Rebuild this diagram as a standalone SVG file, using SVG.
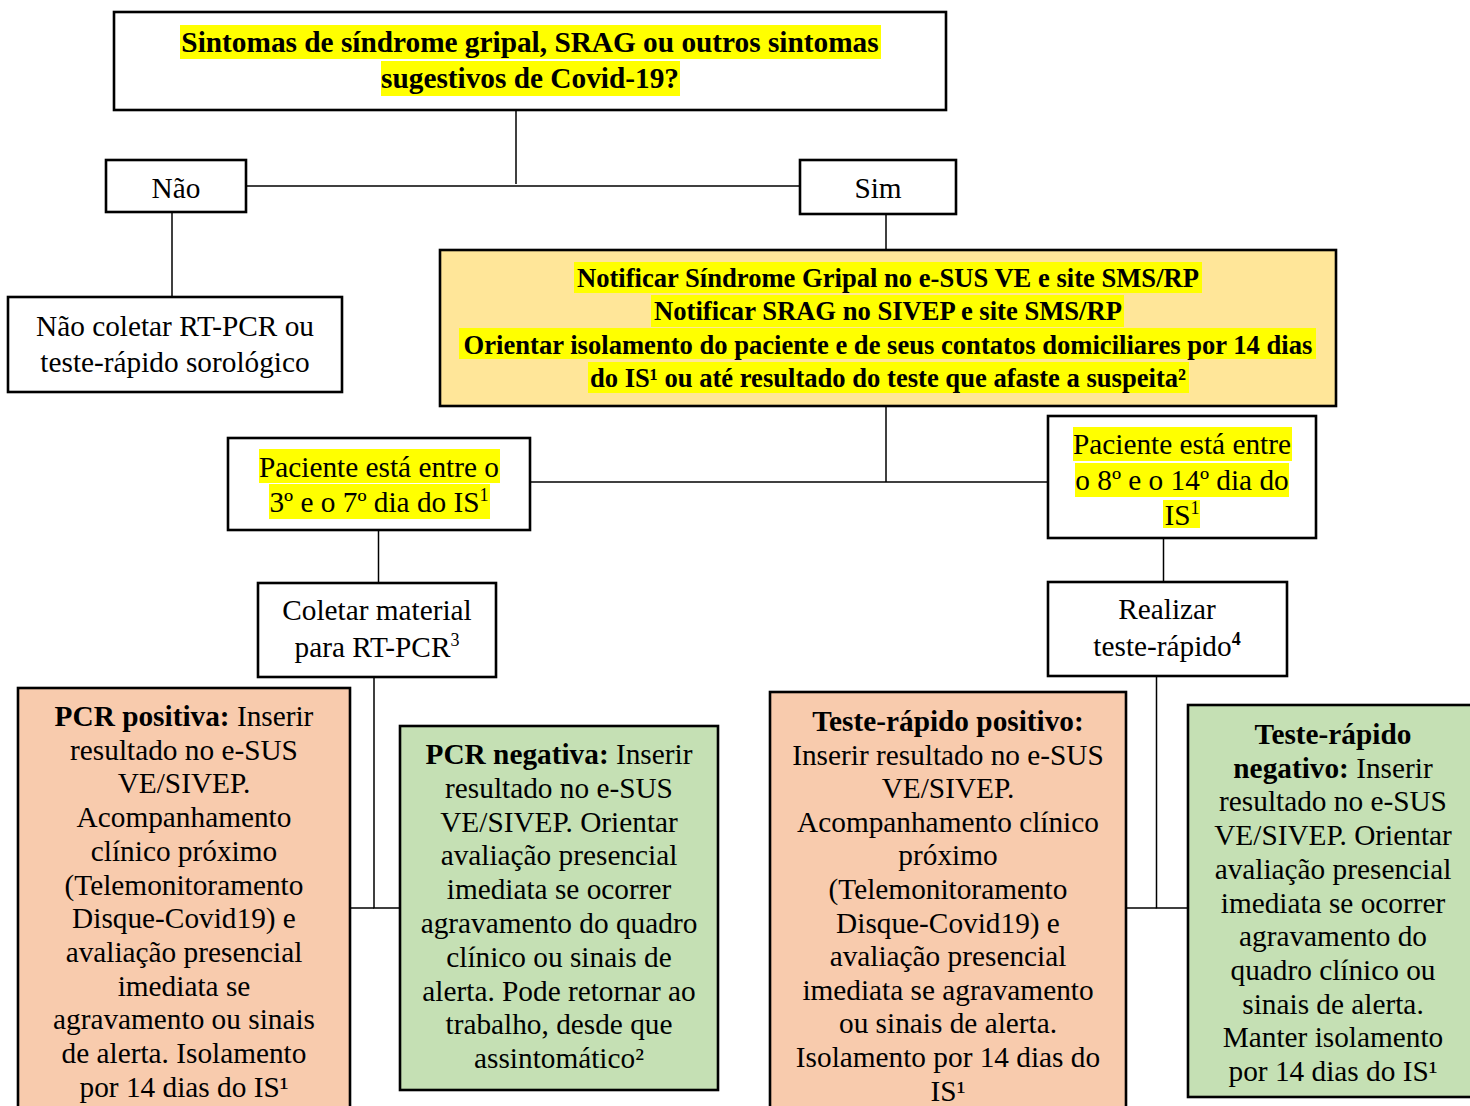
<svg xmlns="http://www.w3.org/2000/svg" width="1470" height="1106" viewBox="0 0 1470 1106">
<style>
.t{font-family:"Liberation Serif","Times New Roman",serif;font-size:29.3px;fill:#000;text-anchor:middle}
.b{font-weight:bold}
.y{font-size:26.6px;font-weight:bold}
.box{stroke:#000;stroke-width:2.6;fill:#fff}
.yel{fill:#FFE699}
.org{fill:#F8CBAD}
.grn{fill:#C5E0B4}
.hl{fill:#FFFF00}
.c{stroke:#000;stroke-width:1.5;fill:none}
.sup{font-size:18px}
</style>
<rect width="1470" height="1106" fill="#fff"/>
<g id="connectors">
<path class="c" d="M516 110V184"/>
<path class="c" d="M246 186H800"/>
<path class="c" d="M172 212V298"/>
<path class="c" d="M886 214V250"/>
<path class="c" d="M886 406V482"/>
<path class="c" d="M530 482H1048"/>
<path class="c" d="M378.5 530V583"/>
<path class="c" d="M1163.5 538V582"/>
<path class="c" d="M374 677V908H400"/>
<path class="c" d="M350 908H374"/>
<path class="c" d="M1156.5 676V908H1188"/>
<path class="c" d="M1126 908H1156.5"/>
</g>
<g id="n-question">
<rect class="box" x="114" y="12" width="832" height="98"/>
<rect class="hl" x="180" y="25" width="701" height="34"/>
<rect class="hl" x="381" y="61" width="299" height="35"/>
<text class="t b" x="530" y="52">Sintomas de síndrome gripal, SRAG ou outros sintomas</text>
<text class="t b" x="530" y="88">sugestivos de Covid-19?</text>
</g>
<g id="n-nao">
<rect class="box" x="106" y="160" width="140" height="52"/>
<text class="t" x="176" y="198">Não</text>
</g>
<g id="n-sim">
<rect class="box" x="800" y="160" width="156" height="54"/>
<text class="t" x="878" y="198">Sim</text>
</g>
<g id="n-naocoletar">
<rect class="box" x="8" y="297" width="334" height="95"/>
<text class="t" x="175" y="336">Não coletar RT-PCR ou</text>
<text class="t" x="175" y="372">teste-rápido sorológico</text>
</g>
<g id="n-notificar">
<rect class="box yel" x="440" y="250" width="896" height="156"/>
<rect class="hl" x="574" y="262" width="628" height="31"/>
<rect class="hl" x="651" y="295" width="473" height="32"/>
<rect class="hl" x="459" y="328" width="857" height="31"/>
<rect class="hl" x="588" y="362" width="601" height="31"/>
<text class="t y" x="888" y="287">Notificar Síndrome Gripal no e-SUS VE e site SMS/RP</text>
<text class="t y" x="888" y="320">Notificar SRAG no SIVEP e site SMS/RP</text>
<text class="t y" x="888" y="354">Orientar isolamento do paciente e de seus contatos domiciliares por 14 dias</text>
<text class="t y" x="888" y="387">do IS¹ ou até resultado do teste que afaste a suspeita²</text>
</g>
<g id="n-3a7">
<rect class="box" x="228" y="438" width="302" height="92"/>
<rect class="hl" x="259" y="449" width="241" height="34"/>
<rect class="hl" x="269" y="484" width="221" height="35"/>
<text class="t" x="379" y="477">Paciente está entre o</text>
<text class="t" x="379" y="512">3º e o 7º dia do IS<tspan class="sup" dy="-11">1</tspan></text>
</g>
<g id="n-8a14">
<rect class="box" x="1048" y="416" width="268" height="122"/>
<rect class="hl" x="1073" y="427" width="219" height="34"/>
<rect class="hl" x="1075" y="463" width="214" height="34"/>
<rect class="hl" x="1163" y="500" width="37" height="28"/>
<text class="t" x="1182" y="454">Paciente está entre</text>
<text class="t" x="1182" y="490">o 8º e o 14º dia do</text>
<text class="t" x="1182" y="525">IS<tspan class="sup" dy="-11">1</tspan></text>
</g>
<g id="n-coletar">
<rect class="box" x="258" y="583" width="238" height="94"/>
<text class="t" x="377" y="620">Coletar material</text>
<text class="t" x="377" y="657">para RT-PCR<tspan class="sup" dy="-11">3</tspan></text>
</g>
<g id="n-realizar">
<rect class="box" x="1048" y="582" width="239" height="94"/>
<text class="t" x="1167" y="619">Realizar</text>
<text class="t" x="1167" y="656">teste-rápido<tspan class="sup b" dy="-11">4</tspan></text>
</g>
<g id="n-pcrpos">
<rect class="box org" x="18" y="688" width="332" height="430"/>
<text class="t" x="184" y="726"><tspan class="b">PCR positiva:</tspan> Inserir</text>
<text class="t" x="184" y="759.7">resultado no e-SUS</text>
<text class="t" x="184" y="793.4">VE/SIVEP.</text>
<text class="t" x="184" y="827.1">Acompanhamento</text>
<text class="t" x="184" y="860.8">clínico próximo</text>
<text class="t" x="184" y="894.5">(Telemonitoramento</text>
<text class="t" x="184" y="928.2">Disque-Covid19) e</text>
<text class="t" x="184" y="961.9">avaliação presencial</text>
<text class="t" x="184" y="995.6">imediata se</text>
<text class="t" x="184" y="1029.3">agravamento ou sinais</text>
<text class="t" x="184" y="1063">de alerta. Isolamento</text>
<text class="t" x="184" y="1096.7">por 14 dias do IS¹</text>
</g>
<g id="n-pcrneg">
<rect class="box grn" x="400" y="726" width="318" height="364"/>
<text class="t" x="559" y="764"><tspan class="b">PCR negativa:</tspan> Inserir</text>
<text class="t" x="559" y="797.8">resultado no e-SUS</text>
<text class="t" x="559" y="831.6">VE/SIVEP. Orientar</text>
<text class="t" x="559" y="865.4">avaliação presencial</text>
<text class="t" x="559" y="899.2">imediata se ocorrer</text>
<text class="t" x="559" y="933">agravamento do quadro</text>
<text class="t" x="559" y="966.8">clínico ou sinais de</text>
<text class="t" x="559" y="1000.6">alerta. Pode retornar ao</text>
<text class="t" x="559" y="1034.4">trabalho, desde que</text>
<text class="t" x="559" y="1068.2">assintomático²</text>
</g>
<g id="n-trpos">
<rect class="box org" x="770" y="692" width="356" height="430"/>
<text class="t" x="948" y="731"><tspan class="b">Teste-rápido positivo:</tspan></text>
<text class="t" x="948" y="764.6">Inserir resultado no e-SUS</text>
<text class="t" x="948" y="798.2">VE/SIVEP.</text>
<text class="t" x="948" y="831.8">Acompanhamento clínico</text>
<text class="t" x="948" y="865.4">próximo</text>
<text class="t" x="948" y="899">(Telemonitoramento</text>
<text class="t" x="948" y="932.6">Disque-Covid19) e</text>
<text class="t" x="948" y="966.2">avaliação presencial</text>
<text class="t" x="948" y="999.8">imediata se agravamento</text>
<text class="t" x="948" y="1033.4">ou sinais de alerta.</text>
<text class="t" x="948" y="1067">Isolamento por 14 dias do</text>
<text class="t" x="948" y="1100.6">IS¹</text>
</g>
<g id="n-trneg">
<rect class="box grn" x="1188" y="705" width="300" height="392"/>
<text class="t" x="1333" y="744"><tspan class="b">Teste-rápido</tspan></text>
<text class="t" x="1333" y="777.7"><tspan class="b">negativo:</tspan> Inserir</text>
<text class="t" x="1333" y="811.4">resultado no e-SUS</text>
<text class="t" x="1333" y="845.1">VE/SIVEP. Orientar</text>
<text class="t" x="1333" y="878.8">avaliação presencial</text>
<text class="t" x="1333" y="912.5">imediata se ocorrer</text>
<text class="t" x="1333" y="946.2">agravamento do</text>
<text class="t" x="1333" y="979.9">quadro clínico ou</text>
<text class="t" x="1333" y="1013.6">sinais de alerta.</text>
<text class="t" x="1333" y="1047.3">Manter isolamento</text>
<text class="t" x="1333" y="1081">por 14 dias do IS¹</text>
</g>
</svg>
